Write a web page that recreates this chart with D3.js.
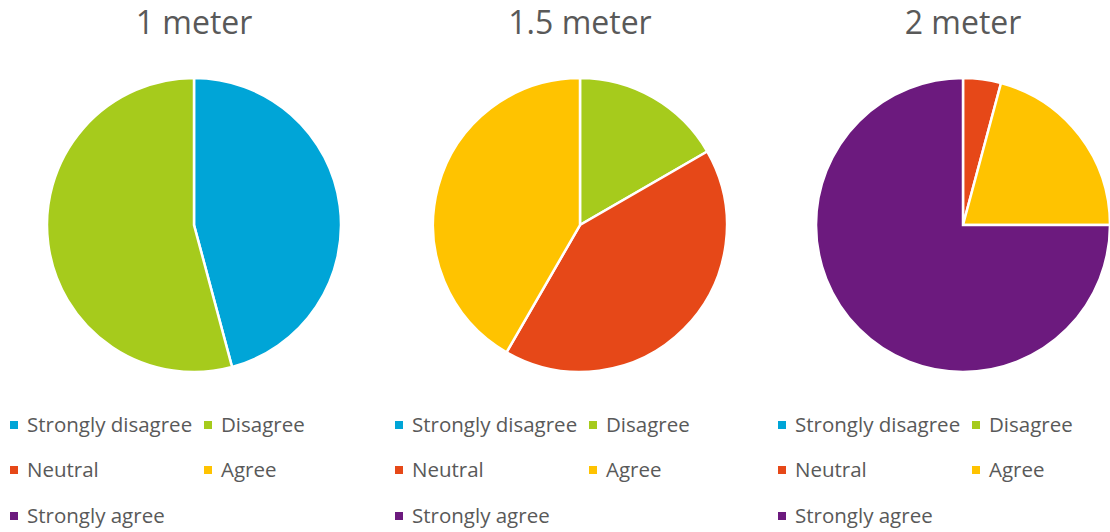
<!DOCTYPE html>
<html><head><meta charset="utf-8">
<script src="https://cdn.jsdelivr.net/npm/d3@7"></script>
<style>body{margin:0;background:#fff;} svg{display:block;}</style>
</head><body>
<svg id="c" width="1110" height="532"></svg>
<script>
const categories = ["Strongly disagree","Disagree","Neutral","Agree","Strongly agree"];
const colors = ["#00A5D7","#A6CB1C","#E64818","#FFC300","#6C1A7E"];
const titles = ["1 meter","1.5 meter","2 meter"];
const values1m = [11,13,0,0,0];
const values15m = [0,4,10,10,0];
const values2m = [0,0,1,5,18];
const allValues = [values1m, values15m, values2m];

const svg = d3.select("#c");
const centersX = [194,580,963];
const cy = 225, r = 147;
const legendX = [10,395,778];
const font = "'Open Sans', sans-serif";
const pie = d3.pie().sort(null).value(d=>d);
const arc = d3.arc().innerRadius(0).outerRadius(r);

allValues.forEach((vals,i)=>{
  const g = svg.append("g").attr("transform",`translate(${centersX[i]},${cy})`);
  g.selectAll("path").data(pie(vals).filter(d=>d.data>0)).join("path")
    .attr("d",arc).attr("fill",d=>colors[d.index]).attr("stroke","#fff").attr("stroke-width",2.5);
  svg.append("text").attr("x",centersX[i]).attr("y",34).attr("text-anchor","middle")
    .attr("font-family",font).attr("font-size",32).attr("fill","#595959").text(titles[i]);
  const lg = svg.append("g").attr("transform",`translate(${legendX[i]},0)`);
  const rowY = [425,470,516];
  categories.forEach((c,k)=>{
    const col = k%2, row = Math.floor(k/2);
    const x = col*194, y = rowY[row];
    lg.append("rect").attr("x",x).attr("y",y-4).attr("width",8).attr("height",8).attr("fill",colors[k]);
    lg.append("text").attr("x",x+17).attr("y",y).attr("dy","0.35em")
      .attr("font-family",font).attr("font-size",20.5).attr("fill","#595959").text(c);
  });
});
</script>
</body></html>
